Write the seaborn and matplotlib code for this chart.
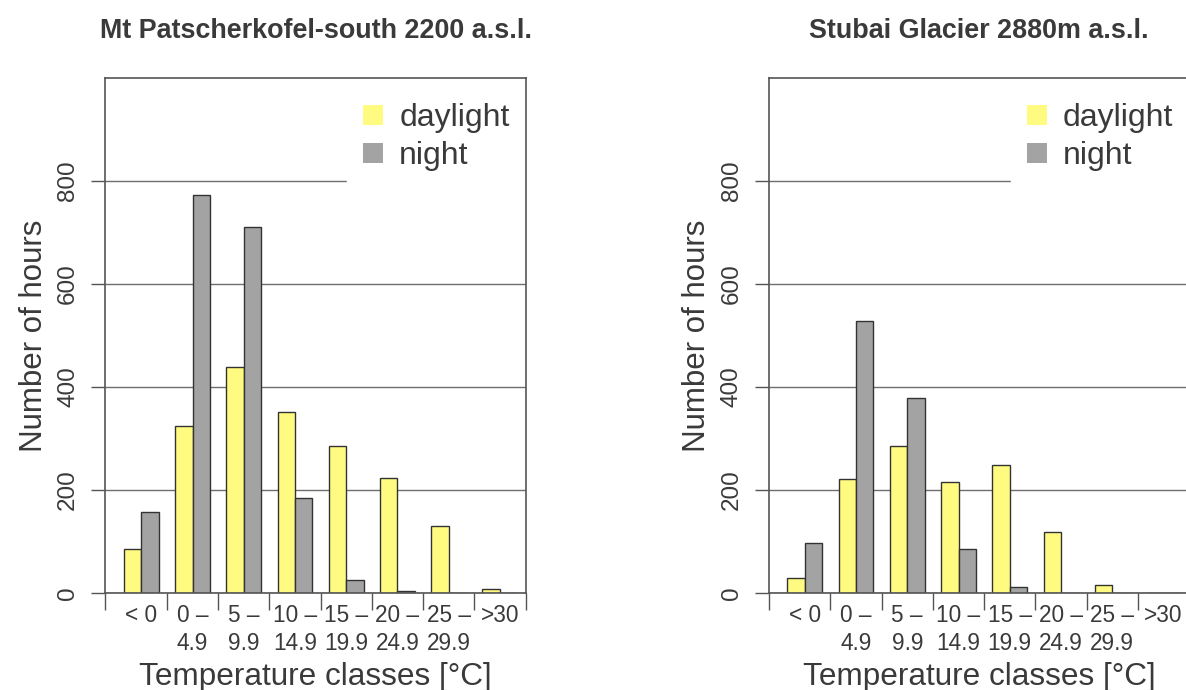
import matplotlib
matplotlib.use("Agg")
import matplotlib.pyplot as plt
import seaborn as sns
import pandas as pd
import numpy as np

categories = ["< 0", "0 –\n4.9", "5 –\n9.9", "10 –\n14.9", "15 –\n19.9",
              "20 –\n24.9", "25 –\n29.9", ">30"]
series = ["daylight", "night"]
patsch_daylight = [85, 324, 438, 351, 286, 224, 130, 7]
patsch_night = [158, 773, 710, 184, 26, 4, 0, 0]
stubai_daylight = [29, 222, 286, 215, 248, 119, 16, 0]
stubai_night = [98, 529, 379, 86, 12, 0, 0, 0]
titles = ["Mt Patscherkofel-south 2200 a.s.l.", "Stubai Glacier 2880m a.s.l."]
yticks = [0, 200, 400, 600, 800]

sns.set_theme(style="white")
plt.rcParams["font.family"] = ["Liberation Sans", "DejaVu Sans"]

TXT = "#3a3a3a"
LINE = "#555555"
palette = {"daylight": "#fefb80", "night": "#a3a3a3"}

def long_df(day, night):
    return pd.DataFrame({
        "cls": categories * 2,
        "series": ["daylight"] * len(categories) + ["night"] * len(categories),
        "hours": list(day) + list(night),
    })

fig = plt.figure(figsize=(11.86, 6.90), dpi=100)
W, H = 1186, 690
ax_w = 420 / W
ax_b = (H - 593) / H
ax_h = (593 - 78) / H
lefts = [105.5 / W, 769 / W]
datasets = [(patsch_daylight, patsch_night), (stubai_daylight, stubai_night)]

for i in range(2):
    ax = fig.add_axes([lefts[i], ax_b, ax_w, ax_h])
    df = long_df(*datasets[i])
    sns.barplot(data=df, x="cls", y="hours", hue="series", order=categories,
                hue_order=series, palette=palette, width=0.68, gap=0,
                edgecolor="#333333", linewidth=1.0, saturation=1, ax=ax,
                zorder=3)
    ax.set_xlim(-0.7, 7.5)
    ax.set_ylim(0, 1000)
    ax.set_yticks(yticks)
    ax.set_yticklabels([str(v) for v in yticks], rotation=90, va="center",
                       fontsize=17.5, color=TXT)
    ax.yaxis.grid(True, color="#6e6e6e", linewidth=1.0, zorder=1)
    ax.set_axisbelow(True)
    ax.tick_params(axis="y", which="major", direction="out", length=10,
                   width=1.0, color=LINE, pad=9, left=True)
    ax.set_xticks(range(len(categories)))
    ax.set_xticklabels(categories, fontsize=16.3, color=TXT, linespacing=1.25)
    ax.tick_params(axis="x", which="major", length=0, pad=8)
    ax.set_xticks([-0.7] + [k + 0.5 for k in range(len(categories))], minor=True)
    ax.tick_params(axis="x", which="minor", direction="out", length=12,
                   width=1.0, color=LINE, bottom=True)
    for s in ax.spines.values():
        s.set_color(LINE)
        s.set_linewidth(1.2)
        s.set_zorder(7)
    ax.set_xlabel("Temperature classes [°C]", fontsize=22.7, color=TXT, labelpad=5)
    ax.set_ylabel("Number of hours", fontsize=22.5, color=TXT, labelpad=6)
    ax.set_title(titles[i], fontsize=19.4, fontweight="bold", color=TXT, pad=29)
    leg = ax.legend(loc="upper right", bbox_to_anchor=(1.0, 0.982), frameon=True,
                    facecolor="white", edgecolor="white", framealpha=1,
                    fontsize=23, handlelength=0.62, handleheight=0.62,
                    handletextpad=0.5, labelspacing=0.25, borderpad=0.5,
                    borderaxespad=0.0, fancybox=False)
    for t in leg.get_texts():
        t.set_color(TXT)
    for p in leg.get_patches():
        p.set_edgecolor("none")
    leg.set_zorder(5)

fig.savefig("out.png", dpi=100)
